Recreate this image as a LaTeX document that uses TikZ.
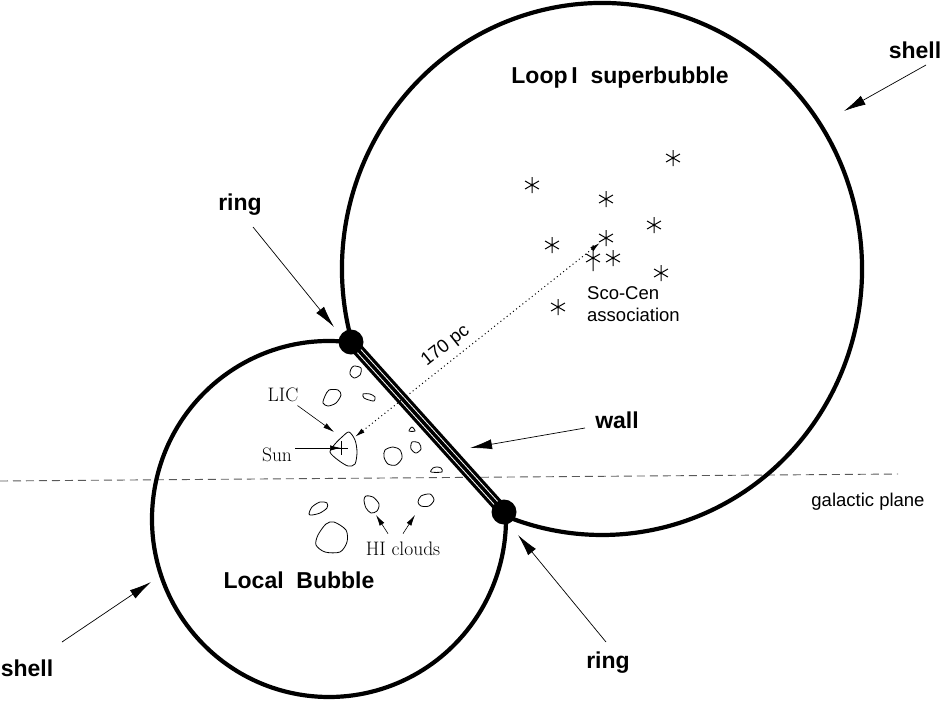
\documentclass[tikz,border=0pt]{standalone}
\usepackage{fontspec}
\setsansfont{Liberation Sans}
\usepackage{tikz}
\usetikzlibrary{arrows.meta}

\begin{document}
\begin{tikzpicture}[x=1pt,y=-1pt,
  shellline/.style = {line width=4.2pt},
  big/.style = {font=\fontsize{23}{26}\selectfont\sffamily\bfseries},
  sans/.style = {font=\fontsize{18.5}{22}\selectfont\sffamily},
  rm/.style = {font=\fontsize{19.5}{22}\selectfont},
  pointer/.style = {-{Latex[length=22pt,width=10pt]},line width=0.7pt},
  smallpointer/.style = {-{Latex[length=11pt,width=5.5pt]},line width=0.6pt},
  ringdot/.style = {circle,fill,inner sep=0pt,minimum size=25pt},
  cloud/.style = {line width=0.8pt}]
\useasboundingbox (0,0) rectangle (946,702);

%plano galactico
\coordinate (P1) at (0,481);
\coordinate (P2) at (898,474);
\draw[dash pattern=on 8pt off 5pt,gray!70!black,line width=0.9pt] (P1) -- (P2);
\node[sans] (GP) at (868,502) {galactic plane};

%burbujas
\draw[shellline] (602,269) ++(164.1:260 and 266) arc[start angle=164.1,end angle=472.4,x radius=260,y radius=266];
\draw[shellline] (329,519) ++(277.1:177 and 178) arc[start angle=277.1,end angle=-2.3,x radius=177,y radius=178];

%pared y anillo
\coordinate (R1) at (351,342);
\coordinate (R2) at (504,512);
\draw[line width=12pt] (R1) -- (R2);
\draw[white,line width=5.5pt] (R1) -- (R2);
\draw[line width=3.5pt] (R1) -- (R2);
\node[ringdot] (D1) at (R1) {};
\node[ringdot] (D2) at (R2) {};

%nubes
\draw[cloud] plot[smooth cycle] coordinates {(354,366) (361,368) (360,375) (354,378) (350,374) (351,369)};
\draw[cloud] plot[smooth cycle] coordinates {(329,390) (338,390) (341,395) (336,403) (328,406) (323,403) (325,396)};
\draw[cloud] plot[smooth cycle] coordinates {(363,394) (370,394) (375,397) (374,401) (369,400) (364,398)};
\draw[cloud] plot[smooth cycle] coordinates {(349,432) (355,440) (357,452) (355,464) (348,466) (338,460) (330,452) (335,444) (342,437)};
\draw[cloud] plot[smooth cycle] coordinates {(409,431) (412,427) (415,431)};
\draw[cloud] plot[smooth cycle] coordinates {(412,442) (419,443) (421,449) (416,453) (411,449)};
\draw[cloud] plot[smooth cycle] coordinates {(385,450) (393,447) (400,450) (402,458) (396,465) (388,464) (384,457)};
\draw[cloud] plot[smooth cycle] coordinates {(431,472) (433,468) (437,467) (441,468) (442,472)};
\draw[cloud] plot[smooth cycle] coordinates {(309,514) (312,507) (320,502) (327,503) (327,508) (320,513) (312,515)};
\draw[cloud] plot[smooth cycle] coordinates {(366,496) (373,497) (379,504) (377,511) (371,513) (366,508) (364,500)};
\draw[cloud] plot[smooth cycle] coordinates {(421,496) (430,494) (434,500) (429,506) (421,506) (418,502)};
\draw[cloud] plot[smooth cycle] coordinates {(318,535) (326,524) (334,522) (346,530) (347,542) (340,552) (325,552) (316,545)};

%estrellas Sco-Cen
\foreach \n/\x/\y in {s1/673/158,s2/532/185,s3/606/199,s4/654/225,s5/552/245,s6/606/238,s8/613/258,s9/661/273,s10/558/307}
  {\coordinate (\n) at (\x,\y);
   \draw[line width=1pt] (\n) +(90:8) -- +(270:8) +(30:8) -- +(210:8) +(150:8) -- +(330:8);}
\coordinate (s7) at (593,258);
\draw[line width=1pt] (s7) +(90:13) -- +(270:13) +(30:8) -- +(210:8) +(150:8) -- +(330:8);
\node[sans,align=left,anchor=west,inner sep=0pt] (SC) at (587,304) {Sco-Cen\\association};

%sol
\coordinate (S) at (341,448);
\draw[line width=0.7pt] (S) +(-7,0) -- +(7,0) +(0,-7) -- +(0,7);
\draw[dash pattern=on 1pt off 3pt,line width=1pt,{Latex[length=10pt,width=5pt]}-{Latex[length=10pt,width=5pt]},shorten <=18pt,shorten >=8pt]
  (S) -- node[sans,sloped,above=5pt,pos=0.43,inner sep=1pt] (Dist) {170 pc} (s6);

%etiquetas
\node[big] (LoopI) at (620,78) {Loop\,I\ \ superbubble};
\node[big] (LocalB) at (299,580) {Local\ \ Bubble};
\node[big] (shellA) at (915,50) {shell};
\node[big] (shellB) at (27,668) {shell};
\node[big] (ringA) at (240,205) {ring};
\node[big] (ringB) at (608,663) {ring};
\node[big] (wall) at (617,420) {wall};
\node[rm] (LIC) at (283,395) {LIC};
\node[rm] (Sun) at (277,455) {Sun};
\node[rm] (HI) at (403,549) {HI clouds};

\coordinate (tShA) at (844,111);
\coordinate (tShB) at (151,582);
\coordinate (tRA) at (334,327);
\coordinate (tRB) at (518,535);
\coordinate (tW) at (470,448);
\coordinate (tL) at (334,432);
\coordinate (h1) at (376,515);
\coordinate (h2) at (415,515);

\draw[pointer] ([shift={(11pt,-15pt)}]shellA.center) -- (tShA);
\draw[pointer] ([shift={(35pt,26pt)}]shellB.center) -- (tShB);
\draw[pointer] ([shift={(13pt,-22pt)}]ringA.center) -- (tRA);
\draw[pointer] ([shift={(-2pt,21pt)}]ringB.center) -- (tRB);
\draw[pointer] ([shift={(-32pt,-8pt)}]wall.center) -- (tW);
\draw[smallpointer] (LIC) -- (tL);
\draw[smallpointer] (Sun.east |- S) -- (S);
\draw[smallpointer] ([shift={(-15pt,5pt)}]HI.north) -- (h1);
\draw[smallpointer] ([yshift=5pt]HI.north) -- (h2);

\end{tikzpicture}
\end{document}
